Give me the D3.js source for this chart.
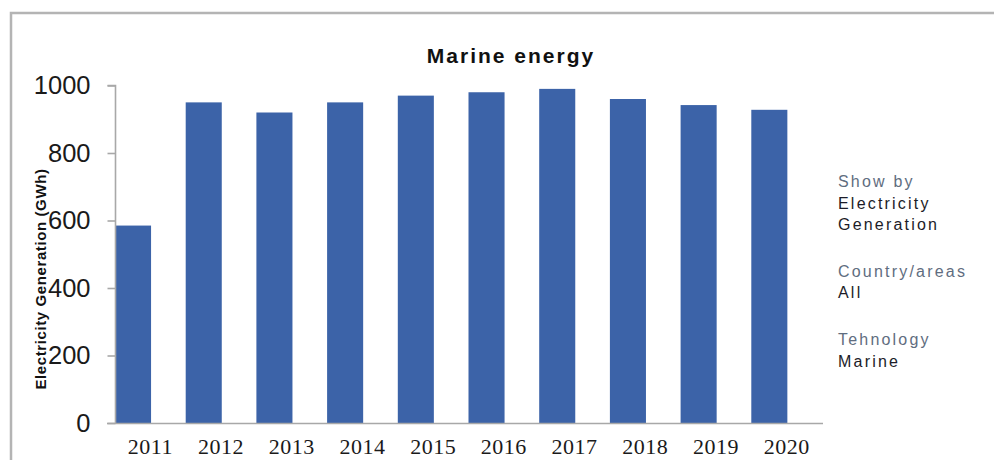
<!DOCTYPE html>
<html>
<head>
<meta charset="utf-8">
<script src="https://cdn.jsdelivr.net/npm/d3@7"></script>
<style>
  html, body { margin: 0; padding: 0; background: #fff; }
  svg { display: block; }
</style>
</head>
<body>
<svg id="chart" width="994" height="460"></svg>
<script>
const years = ["2011","2012","2013","2014","2015","2016","2017","2018","2019","2020"];
const generation = [585, 950, 920, 950, 970, 980, 990, 960, 942, 928];
const yTicks = [0, 200, 400, 600, 800, 1000];
const chartTitle = "Marine energy";
const yAxisTitle = "Electricity Generation (GWh)";
const infoLabels = ["Show by", "Country/areas", "Tehnology"];
const infoValues = [["Electricity", "Generation"], ["All"], ["Marine"]];

const svg = d3.select("#chart");

// outer frame
svg.append("path")
  .attr("d", "M11,460 V13 H994")
  .attr("fill", "none")
  .attr("stroke", "#b4b4b4")
  .attr("stroke-width", 2.5);

const x = d3.scaleBand().domain(years).range([115, 822]).padding(0);
const y = d3.scaleLinear().domain([0, 1000]).range([423, 85.5]);
const barFrac = 0.51;

// bars
svg.append("g").selectAll("rect")
  .data(years)
  .join("rect")
  .attr("x", d => x(d))
  .attr("y", (d, i) => y(generation[i]))
  .attr("width", x.bandwidth() * barFrac)
  .attr("height", (d, i) => y(0) - y(generation[i]))
  .attr("fill", "#3c63a8");

// y axis
const yAxis = svg.append("g")
  .attr("transform", "translate(115.5,0)")
  .call(d3.axisLeft(y).tickValues(yTicks).tickSize(8).tickPadding(17).tickFormat(d3.format("d")));
yAxis.select(".domain").attr("stroke", "#a8a8a8").attr("stroke-width", 1.6).attr("d", "M-8,85.5H0V423");
yAxis.selectAll(".tick line").attr("stroke", "#a8a8a8").attr("stroke-width", 1.6);
yAxis.selectAll(".tick text")
  .attr("font-family", "Liberation Sans, Arial, sans-serif")
  .attr("font-size", 25.5)
  .attr("fill", "#1a1a1a");

// x axis
const xAxis = svg.append("g")
  .attr("transform", "translate(0,423.5)")
  .call(d3.axisBottom(x).tickSize(0).tickPadding(0));
xAxis.select(".domain").attr("stroke", "#a8a8a8").attr("stroke-width", 1.6).attr("d", "M107,0H823");
xAxis.selectAll(".tick text")
  .attr("font-family", "Liberation Serif, Times New Roman, serif")
  .attr("font-size", 22)
  .attr("y", 30.5)
  .attr("dy", null)
  .attr("letter-spacing", 0.5)
  .attr("fill", "#1a1a1a");

// title
svg.append("text")
  .attr("x", 511)
  .attr("y", 63)
  .attr("text-anchor", "middle")
  .attr("font-family", "Liberation Sans, Arial, sans-serif")
  .attr("font-weight", "bold")
  .attr("font-size", 21)
  .attr("letter-spacing", 2)
  .attr("fill", "#111")
  .text(chartTitle);

// y axis title
svg.append("text")
  .attr("transform", "translate(46,279) rotate(-90)")
  .attr("text-anchor", "middle")
  .attr("font-family", "Liberation Sans, Arial, sans-serif")
  .attr("font-weight", "bold")
  .attr("font-size", 15)
  .attr("letter-spacing", 0.6)
  .attr("fill", "#111")
  .text(yAxisTitle);

// info panel
const infoStart = [187, 276.5, 345];
const lineH = 21.5;
infoLabels.forEach((lab, i) => {
  svg.append("text")
    .attr("x", 838).attr("y", infoStart[i])
    .attr("font-family", "Liberation Sans, Arial, sans-serif")
    .attr("font-size", 16).attr("letter-spacing", 2.2)
    .attr("fill", "#5f6d80")
    .text(lab);
  infoValues[i].forEach((v, j) => {
    svg.append("text")
      .attr("x", 838).attr("y", infoStart[i] + lineH * (j + 1))
      .attr("font-family", "Liberation Sans, Arial, sans-serif")
      .attr("font-size", 16).attr("letter-spacing", 2.2)
      .attr("fill", "#1c1c28")
      .text(v);
  });
});
</script>
</body>
</html>
